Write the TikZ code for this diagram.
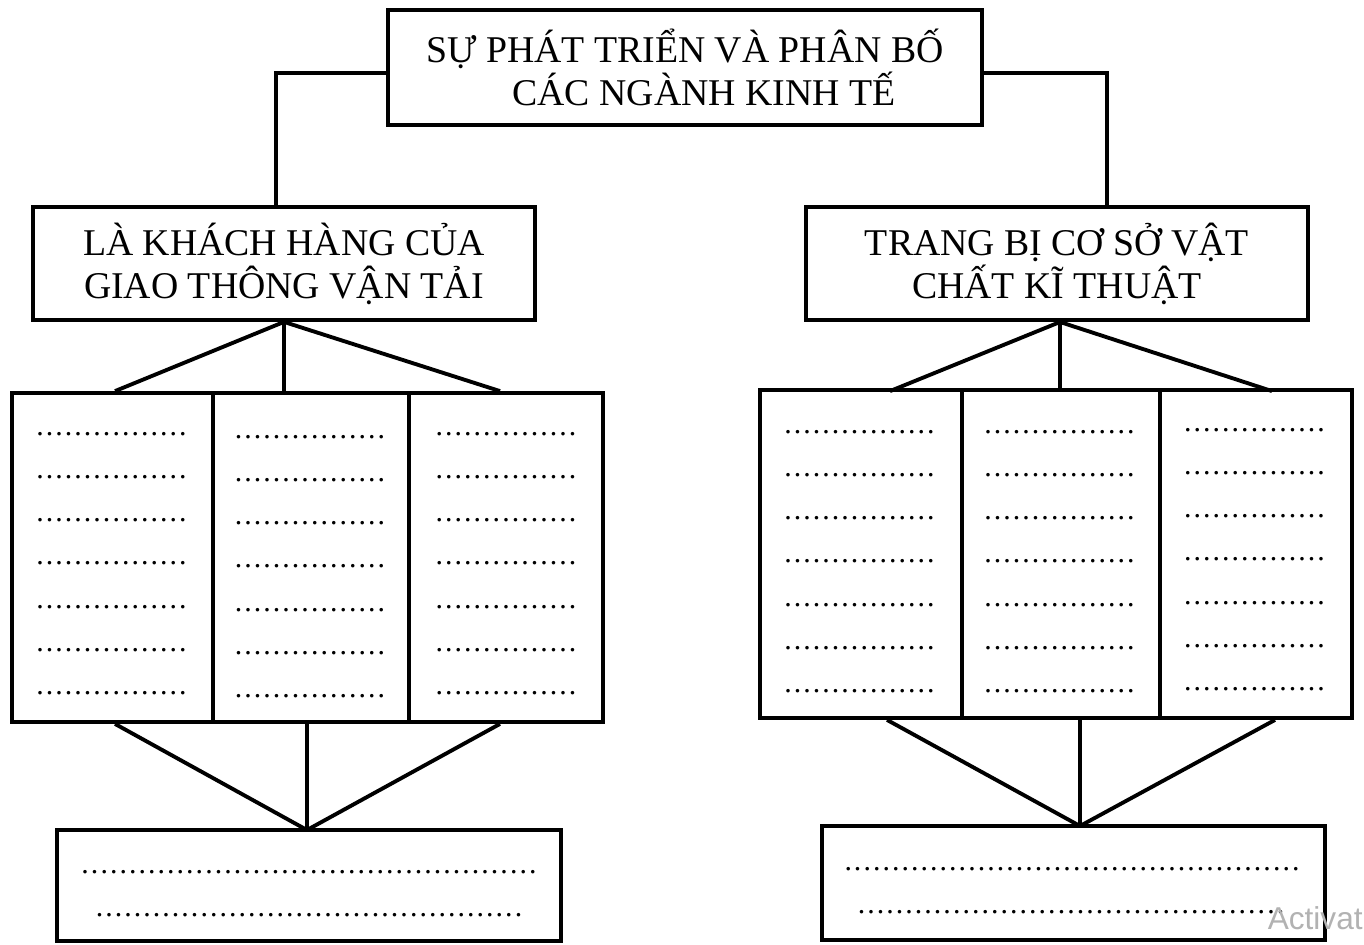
\documentclass[tikz,border=0pt]{standalone}
\usepackage{fontspec}
\setmainfont{Liberation Serif}
\newfontfamily\wmfont{Liberation Sans}
\newcommand\mydots[1]{\foreach\k in {1,...,#1}{\makebox[5.42pt]{.}}}
\begin{document}
\begin{tikzpicture}[x=0.02cm,y=-0.02cm,
  box/.style={draw,line width=2.2pt,rectangle,inner sep=0pt},
  title/.style={font=\fontsize{21.5}{24.5}\selectfont,align=center},
  conn/.style={line width=2.2pt},
  dotrow/.style={font=\fontsize{17}{17}\selectfont,inner sep=0pt}]
\useasboundingbox (0,0) rectangle (1364,945);
% top box
\node[box,title,minimum width=11.88cm,minimum height=2.3cm] (top) at (685,67.5)
  {SỰ PHÁT TRIỂN VÀ PHÂN BỐ\\\hspace*{21.5pt}CÁC NGÀNH KINH TẾ};
\node[box,title,minimum width=10.04cm,minimum height=2.26cm] (L1) at (284,263.5)
  {LÀ KHÁCH HÀNG CỦA\\GIAO THÔNG VẬN TẢI};
\node[box,title,minimum width=10.04cm,minimum height=2.26cm] (R1) at (1057,263.5)
  {TRANG BỊ CƠ SỞ VẬT\\CHẤT KĨ THUẬT};
% left grid
\node[box,minimum width=4.02cm,minimum height=6.58cm] (gA) at (112.5,557.5) {};
\node[box,minimum width=3.92cm,minimum height=6.58cm] (gB) at (311,557.5) {};
\node[box,minimum width=3.88cm,minimum height=6.58cm] (gC) at (506,557.5) {};
% right grid
\node[box,minimum width=4.04cm,minimum height=6.56cm] (rA) at (861,554) {};
\node[box,minimum width=3.96cm,minimum height=6.56cm] (rB) at (1061,554) {};
\node[box,minimum width=3.84cm,minimum height=6.56cm] (rC) at (1256,554) {};
% bottom boxes
\node[box,minimum width=10.08cm,minimum height=2.22cm] (LB) at (309,885.5) {};
\node[box,minimum width=10.06cm,minimum height=2.28cm] (RB) at (1073.5,883) {};
% dot rows in columns
\foreach \i in {0,...,6}{
  \node[dotrow] (la\i) at (111.5,{434+43.2*\i}) {\mydots{16}};
  \node[dotrow] (lb\i) at (310,{437+43.2*\i}) {\mydots{16}};
  \node[dotrow] (lc\i) at (506,{434+43.2*\i}) {\mydots{15}};
  \node[dotrow] (ra\i) at (859.5,{432+43.2*\i}) {\mydots{16}};
  \node[dotrow] (rb\i) at (1059.5,{432+43.2*\i}) {\mydots{16}};
  \node[dotrow] (rc\i) at (1254.5,{430+43.2*\i}) {\mydots{15}};
}
% dot rows in bottom boxes
\node[dotrow] (lbd1) at (309,872) {\mydots{48}};
\node[dotrow] (lbd2) at (309,915) {\mydots{45}};
\node[dotrow] (rbd1) at (1072,869) {\mydots{48}};
\node[dotrow] (rbd2) at (1071,912) {\mydots{45}};
% connectors from top
\draw[conn] ([yshift=-0.11cm]top.west) -| (276,0 |- L1.north);
\draw[conn] ([yshift=-0.11cm]top.east) -| (1107,0 |- R1.north);
% left fan (top)
\draw[conn] (L1.south) -- (115,0 |- gA.north);
\draw[conn] (L1.south) -- (L1.south |- gB.north);
\draw[conn] (L1.south) -- (500,0 |- gC.north);
% right fan (top)
\coordinate (rt) at (1060,322);
\draw[conn] (rt) -- ([yshift=-0.06cm]890,0 |- rA.north);
\draw[conn] (rt) -- (rt |- rB.north);
\draw[conn] (rt) -- ([yshift=-0.06cm]1272,0 |- rC.north);
% left fan (bottom)
\coordinate (lm) at (307,830);
\draw[conn] (115,0 |- gA.south) -- (lm);
\draw[conn] (lm |- gB.south) -- (lm);
\draw[conn] (500,0 |- gC.south) -- (lm);
% right fan (bottom)
\coordinate (rm) at (1080,826);
\draw[conn] (887,0 |- rA.south) -- (rm);
\draw[conn] (rm |- rB.south) -- (rm);
\draw[conn] (1275,0 |- rC.south) -- (rm);
% watermark
\node[anchor=base east,font=\wmfont\fontsize{18}{18}\selectfont,text=black!30,inner sep=0pt] (wm) at (1363,929) {Activat};
\end{tikzpicture}
\end{document}
